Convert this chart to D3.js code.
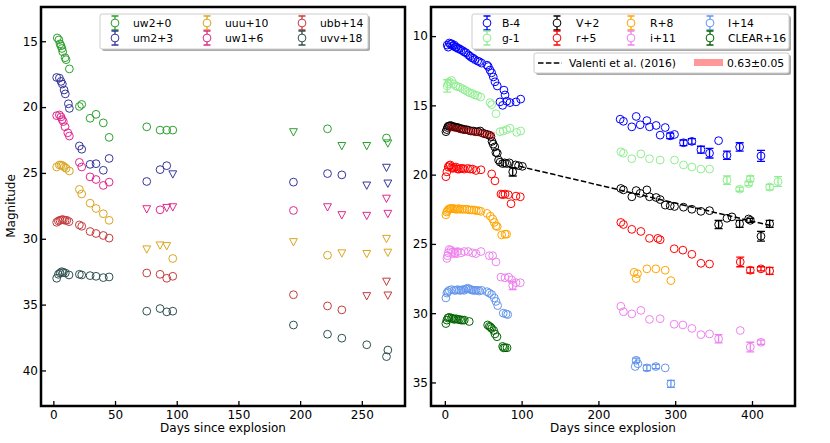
<!DOCTYPE html>
<html>
<head>
<meta charset="utf-8">
<script src="https://cdn.jsdelivr.net/npm/d3@7"></script>
<style>
  body { margin: 0; background: #fff; }
  svg text { font-family: "DejaVu Sans", sans-serif; fill: #000; }
</style>
</head>
<body>
<div id="graf"></div>
<script>
// ---- left panel: Swift UVOT (day, mag), *Lim = upper limits
const uw2 = [[3.2,14.75],[4.5,14.9],[5.4,15.2],[6.2,15.35],[7,15.55],[7.6,15.8],[9.5,16.25],[10.3,16.4],[13,17.1],[21.1,19.95],[23,19.8],[29.8,20.85],[34.6,20.55],[40.5,21.2],[45.2,22.3],[75.7,21.5],[86.5,21.75],[91.9,21.75],[96.8,21.75],[222.2,21.65],[270,22.35]]
const uw2Lim = [[194.6,21.9],[233.8,22.95],[254,22.95],[271.1,22.75]]
const um2 = [[2.7,17.75],[4.9,17.8],[6.2,18.05],[7.3,18.25],[8.7,18.7],[9.7,19.0],[12.2,19.75],[13,20.1],[21.1,22.95],[23,23.2],[29.8,24.35],[34.6,24.3],[40.5,24.8],[45.2,23.9],[75.7,25.65],[86.5,24.75],[91.9,24.45],[194.6,25.7],[222.2,25.05],[233.8,25.15]]
const um2Lim = [[96.8,25.1],[254,25.95],[270,24.6],[271.1,25.8]]
const uuu = [[2.7,24.55],[4.9,24.4],[6.2,24.4],[7.6,24.45],[8.9,24.55],[10.3,24.65],[13,24.85],[21.1,26.25],[23,26.6],[29.8,27.3],[34.6,27.7],[40.5,28.1],[45.2,28.6],[96.8,31.5],[222.2,31.25]]
const uuuLim = [[75.7,30.8],[86.5,30.5],[91.9,30.55],[194.6,30.25],[233.8,31.1],[254,31.15],[270,30.0],[271.1,31.05]]
const uw1 = [[2.7,20.65],[4.9,20.6],[6.2,20.75],[7.1,20.95],[8.1,21.1],[9.5,21.5],[11.7,21.95],[13,22.2],[21.1,24.2],[23,24.55],[29.8,25.3],[34.6,25.5],[40.5,25.95],[45.2,25.7],[86.5,27.8],[194.6,27.85]]
const uw1Lim = [[75.7,27.75],[91.9,27.65],[96.8,27.6],[222.2,27.6],[233.8,28.2],[254,28.25],[270,26.95],[271.1,28.1]]
const ubb = [[2.7,28.75],[4.1,28.65],[5.4,28.6],[6.8,28.55],[8.1,28.55],[9.5,28.6],[10.9,28.6],[12.7,28.7],[21.1,28.95],[23,29.05],[29.8,29.45],[34.6,29.6],[40.5,29.75],[45.2,29.95],[75.7,32.6],[86.5,32.7],[91.9,33.0],[96.8,32.85],[194.6,34.25],[222.2,35.1],[233.8,35.4]]
const ubbLim = [[254,34.35],[270,33.25],[271.1,34.3]]
const uvv = [[2.7,33.0],[4.1,32.7],[5.4,32.6],[6.8,32.5],[8.1,32.55],[9.7,32.6],[12.7,32.75],[21.1,32.7],[23,32.75],[29.8,32.8],[34.6,32.85],[40.5,32.95],[45.2,32.9],[75.7,35.5],[86.5,35.3],[91.9,35.55],[96.8,35.5],[194.6,36.55],[222.2,37.25],[233.8,37.55],[254,38.05],[270,38.95],[271.1,38.45]]
const uvvLim = []

// ---- right panel: optical (day, mag, error)
const B = [[3.1,10.65],[4.4,10.8],[5.8,10.5],[7.3,10.6],[8.8,10.55],[10.5,10.7],[12.3,10.65],[13.8,10.8],[15.3,10.8],[17,10.9],[18.8,10.9],[21,11.0],[23.2,11.05],[25.3,11.15],[27.5,11.2],[30.5,11.35],[32.7,11.45],[34.9,11.55],[37,11.6],[39.2,11.7],[42.7,11.8],[45,11.85],[47.9,11.95],[55,12.1],[56.6,12.2],[58.8,12.45],[61,12.65],[63.1,12.95],[65.3,13.3],[68.3,13.6],[71.8,14.75],[75.3,15.0],[77,13.9],[78.4,14.25],[80.6,14.7],[84.9,14.8],[92.7,14.75],[98.8,14.55],
  [228.3,16.0],[232.6,16.15],[243.5,16.55],[249.2,15.8],[254.4,16.4],[263.1,16.1],[266.5,16.55],[275.2,16.45],[280.4,17.15],[287,16.6],[293.5,17.2,0.2],[299.1,17.1],[310.8,17.7,0.2],[321.7,17.6,0.2],[333.5,18.2,0.25],[344.7,18.45,0.35],[356.5,17.55],[367.4,18.6,0.3],[383.9,18.0,0.3],[411.7,18.65,0.4]]
const g1 = [[3.1,13.6,0.45],[4.4,13.45],[5.8,13.3],[8.8,13.2],[11.5,13.45],[14.5,13.6],[17,13.65],[19.7,13.7],[23,13.8],[26.2,13.9],[29.5,14.0],[32.7,14.1],[36,14.15],[39.2,14.25],[42.7,14.3],[46.7,14.4],[58.8,14.8],[61,14.95],[66.6,15.6],[71.8,16.9],[76,16.85],[80.6,16.75],[84.9,16.65],[93.6,16.95],[98.8,16.85],
  [229.2,18.35],[232.6,18.45],[243.5,18.85],[255.3,18.5],[266.5,18.85],[280.4,18.95],[299.1,18.95],[310.8,19.3],[321.7,19.45],[333.5,19.6],[344.7,19.6],[367.4,20.4,0.3],[383.9,21.05,0.15],[395.6,20.65,0.15],[397.8,20.3,0.2],[423,20.9,0.2],[433.9,20.5,0.35]]
const V = [[1.5,16.9],[2.5,16.75],[3.5,16.6],[4.5,16.5],[6,16.5],[7.5,16.45],[9,16.5],[11,16.55],[13,16.55],[15,16.6],[17,16.6],[19,16.65],[21,16.7],[23,16.7],[25,16.75],[28,16.75],[31,16.8],[34,16.85],[37,16.85],[40,16.9],[43,16.9],[46,16.85],[49,17.0],[52,17.05],[55,17.1],[58,17.15],[60,17.25],[61.5,17.6],[63,17.8],[65,18.0],[66.5,18.4],[68.3,18.45],[70,18.95],[72,19.1],[75.3,19.2],[78,19.15],[80.6,19.2],[84,19.15],[88.4,19.8,0.3],[92,19.3],[96,19.35],[101,19.4],
  [229.2,21.0],[232.6,21.1],[243.5,21.6],[249.2,21.15],[254.4,21.35],[263.1,21.1],[266.5,21.6],[275.2,21.65],[280.4,21.8],[287,22.2],[293.5,22.25],[299.1,22.3],[310.8,22.35],[321.7,22.5],[333.5,22.65],[344.7,22.6],[356.5,23.6,0.3],[367.4,23.15],[373.9,23.05],[383.9,23.55,0.25],[395.6,23.2],[397.8,23.3,0.15],[411.7,24.45,0.35],[423,23.55,0.25]]
const r5 = [[1.4,20.15],[2.7,19.8],[4.4,19.45],[5.7,19.35],[7,19.3],[8.5,19.5],[10.2,19.55],[12.3,19.5],[14.5,19.45],[16.7,19.6],[18.8,19.6],[21,19.55],[23.2,19.55],[25.3,19.6],[29.7,19.55],[33,19.6],[36.2,19.6],[40.5,19.7],[47.1,19.65],[61,19.95],[65.3,20.45],[73.1,21.4],[75.5,21.45],[78.4,21.4],[82.7,21.45],[86.2,22.1],[92.7,21.55],[98.3,21.6],
  [229.2,23.45],[232.6,23.6],[243.5,23.95],[255.3,24.1],[266.5,24.6],[277.4,24.6],[280.4,24.7],[298.7,25.35],[310,25.45],[321.7,25.75],[333.5,26.4],[344.7,26.45],[384.7,26.3,0.35],[397.8,26.9,0.2],[411.7,26.8,0.15],[423,26.95,0.25]]
const R8 = [[1.4,22.9],[2.5,22.7],[3.6,22.6],[5,22.5],[6.5,22.45],[8,22.45],[10,22.45],[12,22.45],[14,22.5],[16,22.5],[18,22.45],[20,22.5],[23,22.5],[26,22.5],[29,22.5],[32,22.55],[35,22.55],[38,22.55],[41,22.6],[44,22.6],[47,22.65],[55,22.8],[59.2,23.0],[62.3,23.2],[64.4,23.45],[66.6,23.7],[68.3,23.75],[74,24.35],[78.4,24.3],[80.5,24.3],
  [246.5,27.05],[249.2,27.5],[250.9,27.15],[263.1,26.8],[274.8,26.8],[287,26.9],[294.4,27.65]]
const i11 = [[2.7,26.05],[3.5,25.85],[4.4,25.65],[5.7,25.4],[8,25.45],[10.2,25.55],[13.2,25.65,0.3],[16.7,25.55],[21,25.65],[25.3,25.55],[30.5,25.55],[36.2,25.65],[40.5,25.7],[47.1,25.55],[57.9,25.85],[62.3,25.85],[66.6,26.3],[73.1,27.4],[78.4,27.45],[83.2,27.4],[87.1,27.6],[88.4,28.0,0.3],[92.7,27.8],[98.3,27.8],
  [229.2,29.5],[232.6,29.9],[243.5,30.05],[255.3,29.8],[266.5,30.45],[280.4,30.4],[298.7,30.8],[310,30.85],[321.7,31.1],[333.5,31.55],[344.7,31.5],[356.5,31.85,0.3],[384.7,31.25],[397.8,32.45,0.35],[411.7,32.1,0.15]]
const I14 = [[1.4,28.9],[2.7,28.55],[4,28.45],[5.7,28.35],[8.8,28.3],[12.3,28.35],[14.5,28.35],[16.7,28.3],[19,28.35],[21,28.35],[23,28.3],[25.3,28.35],[27.5,28.25],[29.7,28.2],[32,28.25],[34,28.3],[36,28.35],[38.3,28.35],[40.5,28.35],[42.7,28.35],[45,28.4],[47.9,28.35],[55,28.45],[57.9,28.55],[61,28.65],[64.4,28.9],[66.6,29.15],[68.8,29.45],[76.1,30.0],[79.7,30.05],[81.9,30.1],
  [247.9,33.85],[249.2,33.4,0.15],[251.4,33.65],[263.1,33.95,0.2],[274.8,33.85,0.15],[287,33.95],[294.4,35.1,0.25]]
const CLEAR = [[1.4,30.75],[2.7,30.5],[4,30.35],[5.7,30.3],[8.8,30.35],[10.5,30.4],[12.3,30.45],[14.5,30.4],[16.7,30.45],[19,30.45],[21,30.5],[23,30.5],[25.3,30.5],[31.8,30.6],[55.8,30.85],[57.9,30.95],[59.5,31.0],[61,31.1],[63.6,31.25],[65.3,31.5],[67.9,31.7],[75.3,32.4],[76.5,32.5],[78.4,32.5],[81,32.5]]

// plateau slope fit on V and Valenti et al. tail
const slopeFit = [[3,16.55],[65,17.2]]
const slopeHalf = 0.27
const valenti = [[97,19.4],[426,23.7]]

const leftNames = ["uw2+0","um2+3","uuu+10","uw1+6","ubb+14","uvv+18"]
const rightNames = ["B-4","g-1","V+2","r+5","R+8","i+11","I+14","CLEAR+16"]
const xTicksL = [0,50,100,150,200,250]
const yTicksL = [15,20,25,30,35,40]
const xTicksR = [0,100,200,300,400]
const yTicksR = [10,15,20,25,30,35]

const leftSets = [
  { name: leftNames[0], det: uw2, lim: uw2Lim, color: "#2ca02c" },
  { name: leftNames[1], det: um2, lim: um2Lim, color: "#35359a" },
  { name: leftNames[2], det: uuu, lim: uuuLim, color: "#daa520" },
  { name: leftNames[3], det: uw1, lim: uw1Lim, color: "#e0288e" },
  { name: leftNames[4], det: ubb, lim: ubbLim, color: "#c43c3c" },
  { name: leftNames[5], det: uvv, lim: uvvLim, color: "#2f4f4f" },
]
const rightSets = [
  { name: rightNames[0], det: B, color: "blue" },
  { name: rightNames[1], det: g1, color: "lightgreen" },
  { name: rightNames[2], det: V, color: "black" },
  { name: rightNames[3], det: r5, color: "red" },
  { name: rightNames[4], det: R8, color: "orange" },
  { name: rightNames[5], det: i11, color: "violet" },
  { name: rightNames[6], det: I14, color: "cornflowerblue" },
  { name: rightNames[7], det: CLEAR, color: "darkgreen" },
]

const svg = d3.select("#graf").append("svg").attr("width", 830).attr("height", 443)

const yTop = 7, yBot = 406
const xL = d3.scaleLinear().domain([-10, 285]).range([41, 405])
const yL = d3.scaleLinear().domain([12.4, 42.7]).range([yTop, yBot])
const xR = d3.scaleLinear().domain([-18, 456]).range([431, 795])
const yR = d3.scaleLinear().domain([7.9, 36.7]).range([yTop, yBot])
const legendFont = 10.8

function axes(x, y, xt, yt) {
  const [x0, x1] = x.range()
  svg.append("g").attr("transform", `translate(0, ${yBot})`)
    .call(d3.axisBottom(x).tickValues(xt).tickSize(-5).tickPadding(4))
    .call(a => a.select(".domain").remove())
  svg.append("g").attr("transform", `translate(${x0}, 0)`)
    .call(d3.axisLeft(y).tickValues(yt).tickSize(-5).tickPadding(3))
    .call(a => a.select(".domain").remove())
  svg.selectAll(".tick line").attr("stroke", "#000").attr("stroke-width", 1.3)
  svg.selectAll(".tick text").attr("font-size", 12).attr("font-family", "DejaVu Sans")
  svg.append("text").attr("x", (x0 + x1) / 2).attr("y", 432)
    .attr("text-anchor", "middle").attr("font-size", 12).text("Days since explosion")
}

function errbars(g, data, x, y, color) {
  g.selectAll(null).data(data.filter(d => d[2])).enter().append("path")
    .attr("d", d => {
      const cx = x(d[0]), a = y(d[1] - d[2]), b = y(d[1] + d[2])
      return `M${cx},${a}V${b}M${cx - 4},${a}h8M${cx - 4},${b}h8`
    })
    .attr("stroke", color).attr("stroke-width", 1.3).attr("fill", "none")
}

function circles(g, data, x, y, color) {
  g.selectAll(null).data(data).enter().append("circle")
    .attr("cx", d => x(d[0])).attr("cy", d => y(d[1])).attr("r", 3.9)
    .attr("fill", "none").attr("stroke", color).attr("stroke-width", 1)
}

function triangles(g, data, x, y, color) {
  g.selectAll(null).data(data).enter().append("path")
    .attr("d", "M-3.9,-3.4L3.9,-3.4L0,3.9Z")
    .attr("transform", d => `translate(${x(d[0])}, ${y(d[1])})`)
    .attr("fill", "none").attr("stroke", color).attr("stroke-width", 1)
}

function legendBox(x, y, w, h) {
  svg.append("rect").attr("x", x + 2).attr("y", y + 2).attr("width", w).attr("height", h)
    .attr("rx", 2).attr("fill", "#aaa")
  svg.append("rect").attr("x", x).attr("y", y).attr("width", w).attr("height", h)
    .attr("rx", 2).attr("fill", "#fff").attr("stroke", "#ccc").attr("stroke-width", 1)
}

function legendItem(mx, my, tx, color, label) {
  svg.append("path")
    .attr("d", `M${mx},${my - 7}V${my + 7}M${mx - 3.5},${my - 7}h7M${mx - 3.5},${my + 7}h7`)
    .attr("stroke", color).attr("stroke-width", 1.3).attr("fill", "none")
  svg.append("circle").attr("cx", mx).attr("cy", my).attr("r", 3.9)
    .attr("fill", "#fff").attr("stroke", color).attr("stroke-width", 1)
  svg.append("text").attr("x", tx).attr("y", my + 4).attr("font-size", legendFont).text(label)
}

// ---- left panel
axes(xL, yL, xTicksL, yTicksL)
const gl = svg.append("g")
leftSets.forEach(s => {
  errbars(gl, s.det, xL, yL, s.color)
  circles(gl, s.det, xL, yL, s.color)
  triangles(gl, s.lim, xL, yL, s.color)
})

// ---- right panel
axes(xR, yR, xTicksR, yTicksR)
const gr = svg.append("g")
rightSets.forEach(s => {
  errbars(gr, s.det, xR, yR, s.color)
  circles(gr, s.det, xR, yR, s.color)
})
gr.append("path").datum(slopeFit)
  .attr("d", d3.area().x(d => xR(d[0])).y0(d => yR(d[1] - slopeHalf)).y1(d => yR(d[1] + slopeHalf)))
  .attr("fill", "red").attr("fill-opacity", 0.4)
gr.append("path").datum(valenti)
  .attr("d", d3.line().x(d => xR(d[0])).y(d => yR(d[1])))
  .attr("fill", "none").attr("stroke", "#000").attr("stroke-width", 1.5).attr("stroke-dasharray", "5.5,2.4")

// frames
;[xL, xR].forEach(x => {
  const [x0, x1] = x.range()
  svg.append("rect").attr("x", x0).attr("y", yTop).attr("width", x1 - x0).attr("height", yBot - yTop)
    .attr("fill", "none").attr("stroke", "#000").attr("stroke-width", 2.5)
})

svg.append("text").attr("transform", "translate(15, 206) rotate(-90)")
  .attr("text-anchor", "middle").attr("font-size", 12).text("Magnitude")

// ---- legends
legendBox(100, 14, 268, 35)
const colL = [[115, 133], [207, 225], [302, 320]]
leftSets.forEach((s, k) => {
  const c = colL[Math.floor(k / 2)]
  legendItem(c[0], k % 2 ? 38 : 23, c[1], s.color, s.name)
})

legendBox(472, 14, 317, 35)
const colR = [[487, 502], [557, 576], [631, 650], [710, 728]]
rightSets.forEach((s, k) => {
  const c = colR[Math.floor(k / 2)]
  legendItem(c[0], k % 2 ? 38 : 23, c[1], s.color, s.name)
})

legendBox(534, 53, 255, 20)
svg.append("path").attr("d", "M538,63H562").attr("stroke", "#000")
  .attr("stroke-width", 1.5).attr("stroke-dasharray", "5.5,2.4")
svg.append("text").attr("x", 569).attr("y", 67).attr("font-size", legendFont).text("Valenti et al. (2016)")
svg.append("rect").attr("x", 694).attr("y", 59).attr("width", 29).attr("height", 7)
  .attr("fill", "red").attr("fill-opacity", 0.4)
svg.append("text").attr("x", 727).attr("y", 67).attr("font-size", legendFont).text("0.63±0.05")
</script>
</body>
</html>
